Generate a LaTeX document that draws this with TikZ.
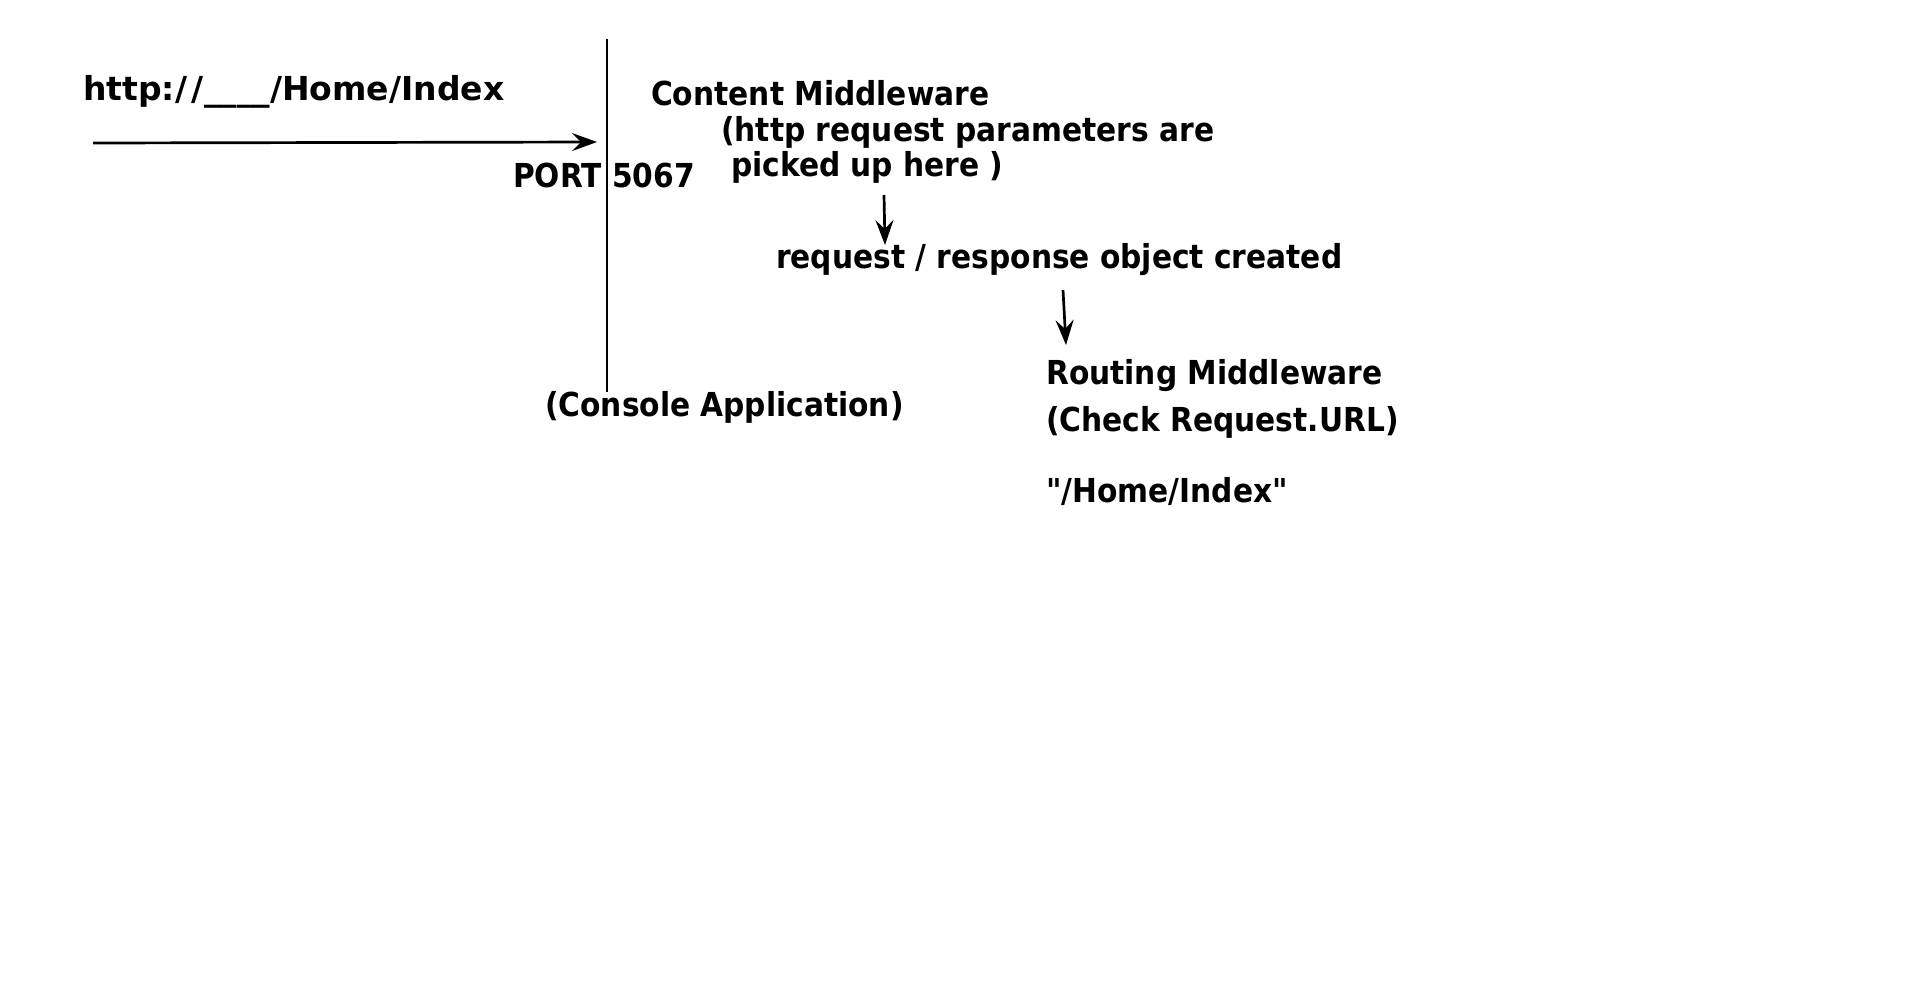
\documentclass[tikz,border=0pt]{standalone}
\usepackage{fontspec}
\setmainfont{DejaVu Sans Condensed}
\newfontfamily\widefont{DejaVu Sans}
\usetikzlibrary{arrows.meta, positioning, calc}

\tikzset{
  lbl/.style={anchor=base west, font=\fontsize{33}{36}\selectfont\bfseries, inner sep=0pt},
  flow/.style={line width=2.7pt, -{Stealth[length=25pt, width=18pt, inset=9pt]}}
}

\begin{document}
\begin{tikzpicture}[x=1pt, y=-1pt]
  \useasboundingbox (0,0) rectangle (1920,991);

  % incoming request and the port
  \node[lbl, font=\widefont\fontsize{33}{36}\selectfont\bfseries] (url) at (83, 100) {http:/\kern4pt/\kern1pt\_\_\_\_/Home/Index};
  \coordinate (src) at (93, 143);
  \coordinate (portin) at (597, 142);
  \coordinate (lntop) at (607, 39);
  \coordinate (lnbot) at (607, 392);
  \draw[line width=2.5pt] (lntop) -- (lnbot);
  \draw[flow] (src) -- (portin);
  \node[lbl] (port) at (513, 187) {PORT 5067};
  \node[lbl] (console) at (545, 416) {(Console Application)};

  % middleware pipeline
  \node[lbl] (content) at (651, 105) {Content Middleware};
  \node[lbl] (params) at (721, 141) {(http request parameters are};
  \node[lbl] (picked) at (731, 176) {picked up here )};
  \node[lbl] (reqres) at (776, 268) {request / response object created};
  \node[lbl] (routing) at (1046, 384) {Routing Middleware};
  \node[lbl] (check) at (1046, 431) {(Check Request.URL)};
  \node[lbl] (path) at (1046, 502) {\textquotedbl/Home/Index\textquotedbl};

  \coordinate (a1s) at (884, 195);
  \coordinate (a1e) at (885, 245);
  \coordinate (a2s) at (1063, 290);
  \coordinate (a2e) at (1066, 345);
  \draw[flow] (a1s) -- (a1e);
  \draw[flow] (a2s) -- (a2e);
\end{tikzpicture}
\end{document}
